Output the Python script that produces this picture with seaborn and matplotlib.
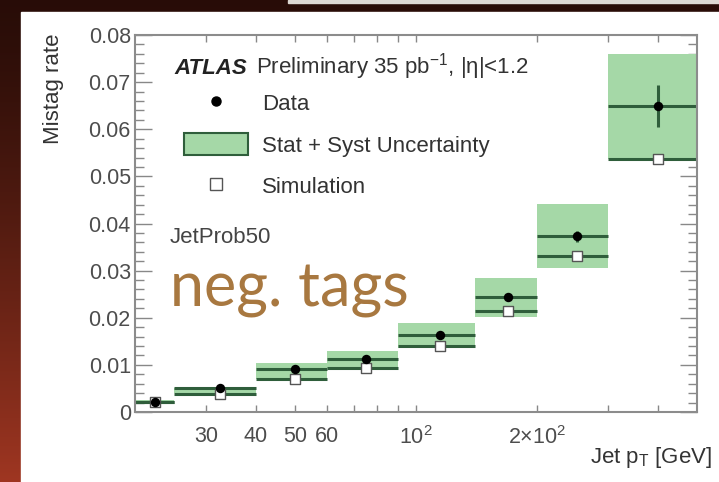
import numpy as np
import matplotlib
matplotlib.use('Agg')
import matplotlib.pyplot as plt
import seaborn as sns
from matplotlib.patches import Rectangle, Patch
from matplotlib.lines import Line2D
from matplotlib.ticker import FixedLocator, FixedFormatter, MultipleLocator

# bins in jet pT [GeV]
bin_edges = [20, 25, 40, 60, 90, 140, 200, 300, 500]
bin_centers = [22.4, 32.5, 50, 75, 115, 169, 252, 400]

# mistag rate, negative tags
data_rate = [0.0022, 0.0050, 0.0091, 0.0112, 0.0163, 0.0243, 0.0373, 0.0649]
data_err = [0.0002, 0.0002, 0.0003, 0.0004, 0.0005, 0.0007, 0.0012, 0.0045]
sim_rate = [0.0021, 0.0038, 0.0070, 0.0093, 0.0139, 0.0214, 0.0331, 0.0536]
band_lo = [0.0019, 0.0040, 0.0070, 0.0093, 0.0136, 0.0201, 0.0305, 0.0536]
band_hi = [0.0025, 0.0051, 0.0104, 0.0130, 0.0189, 0.0284, 0.0441, 0.0760]

x_ticks = [30, 40, 50, 60, 70, 80, 90, 100, 200, 300, 400]
x_ticklabels = ['30', '40', '50', '60', '', '', '', r'$10^{2}$', r'$2{\times}10^{2}$', '', '']

sns.set_style('ticks')
plt.rcParams['font.family'] = ['Liberation Sans', 'DejaVu Sans']
plt.rcParams['mathtext.fontset'] = 'custom'
plt.rcParams['mathtext.rm'] = 'Liberation Sans'
plt.rcParams['mathtext.it'] = 'Liberation Sans:italic'

W, H = 719, 482
def px(x, y):
    return x / W, 1 - y / H

fill_green = '#a5d8a7'
dark_green = '#2f5e3b'
txt = '#333333'

fig = plt.figure(figsize=(W / 100, H / 100), dpi=100)

# slide background
bg = fig.add_axes([0, 0, 1, 1], zorder=-5)
top_c = np.array([0.16, 0.05, 0.03])
bot_c = np.array([0.62, 0.21, 0.13])
t = np.linspace(0, 1, 64)[:, None, None]
grad = top_c + (bot_c - top_c) * t ** 1.3
grad = np.repeat(grad, 4, axis=1)
bg.imshow(grad, extent=(0, W, H, 0), aspect='auto', interpolation='bilinear')
bg.add_patch(Rectangle((21, 12), W - 21, H - 12, color='white'))
bg.add_patch(Rectangle((288, 0), W - 288, 2.5, color='#ddd8d3'))
bg.set_xlim(0, W)
bg.set_ylim(H, 0)
bg.axis('off')

ax = fig.add_axes([135 / W, 1 - 412 / H, (697 - 135) / W, (412 - 35) / H])
ax.set_facecolor('white')
ax.set_xscale('log')

lefts = np.array(bin_edges[:-1])
rights = np.array(bin_edges[1:])
ax.bar(lefts, np.array(band_hi) - np.array(band_lo), width=rights - lefts,
       bottom=band_lo, align='edge', color=fill_green, linewidth=0, zorder=1)
ax.hlines(sim_rate, lefts, rights, color=dark_green, lw=2.2, zorder=2)
ax.hlines(data_rate, lefts, rights, color=dark_green, lw=2.2, zorder=2)
ax.vlines(bin_centers, np.array(data_rate) - np.array(data_err),
          np.array(data_rate) + np.array(data_err), color=dark_green, lw=2.2, zorder=2)
sns.scatterplot(x=bin_centers, y=sim_rate, marker='s', s=62, color='white',
                edgecolor='#555555', linewidth=1.0, ax=ax, zorder=3)
sns.scatterplot(x=bin_centers, y=data_rate, marker='o', s=46, color='black',
                edgecolor='black', linewidth=0, ax=ax, zorder=4)

ax.set_xlim(20, 500)
ax.set_ylim(0, 0.08)

ax.xaxis.set_major_locator(FixedLocator(x_ticks))
ax.xaxis.set_major_formatter(FixedFormatter(x_ticklabels))
ax.xaxis.set_minor_locator(FixedLocator([100]))
ax.xaxis.set_minor_formatter(FixedFormatter(['']))
ax.yaxis.set_major_locator(MultipleLocator(0.01))
ax.yaxis.set_minor_locator(MultipleLocator(0.002))
ax.set_yticklabels(['0' if v == 0 else f'{v:.2f}' for v in ax.get_yticks()])

ax.tick_params(axis='both', which='both', direction='in', top=True, right=True,
               color='#888888', labelcolor='#4d4d4d', labelsize=15.5)
ax.tick_params(axis='x', which='major', length=5, width=1, pad=10)
ax.tick_params(axis='x', which='minor', length=11, width=1)
ax.tick_params(axis='y', which='major', length=12, width=1, pad=3)
ax.tick_params(axis='y', which='minor', length=6.5, width=1)
for sp in ax.spines.values():
    sp.set_color('#8c8c8c')
    sp.set_linewidth(1.5)

handles = [
    Line2D([], [], marker='o', ls='none', color='black', markersize=6.5),
    Patch(facecolor=fill_green, edgecolor=dark_green, linewidth=1.5),
    Line2D([], [], marker='s', ls='none', markerfacecolor='white',
           markeredgecolor='#555555', markersize=8),
]
ax.legend(handles, ['Data', 'Stat + Syst Uncertainty', 'Simulation'],
          loc='upper left', bbox_to_anchor=((184 - 135) / 562, (412 - 92) / 377),
          frameon=False, fontsize=16, handlelength=2.9, handleheight=1.14,
          labelspacing=0.8, handletextpad=0.62, borderpad=0, borderaxespad=0,
          labelcolor=txt)

fig.text(*px(174, 74), 'ATLAS', fontsize=16, fontweight='bold', fontstyle='italic',
         color='#222222', va='baseline')
fig.text(*px(256, 74), 'Preliminary 35 pb$^{-1}$, |η|<1.2', fontsize=16,
         color=txt, va='baseline')
fig.text(*px(170, 243), 'JetProb50', fontsize=16, color='#444444', va='baseline')
fig.text(*px(170, 306), 'neg. tags', fontsize=44, color='#a87840', va='baseline',
         family=['Lato', 'DejaVu Sans'])

fig.text(*px(54, 33), 'Mistag rate', fontsize=16, color=txt, rotation=90,
         ha='center', va='top')
fig.text(*px(712, 457), r'Jet p$_{\mathrm{T}}$ [GeV]', fontsize=16, color=txt,
         ha='right', va='center')

fig.savefig('out.png', dpi=100)
